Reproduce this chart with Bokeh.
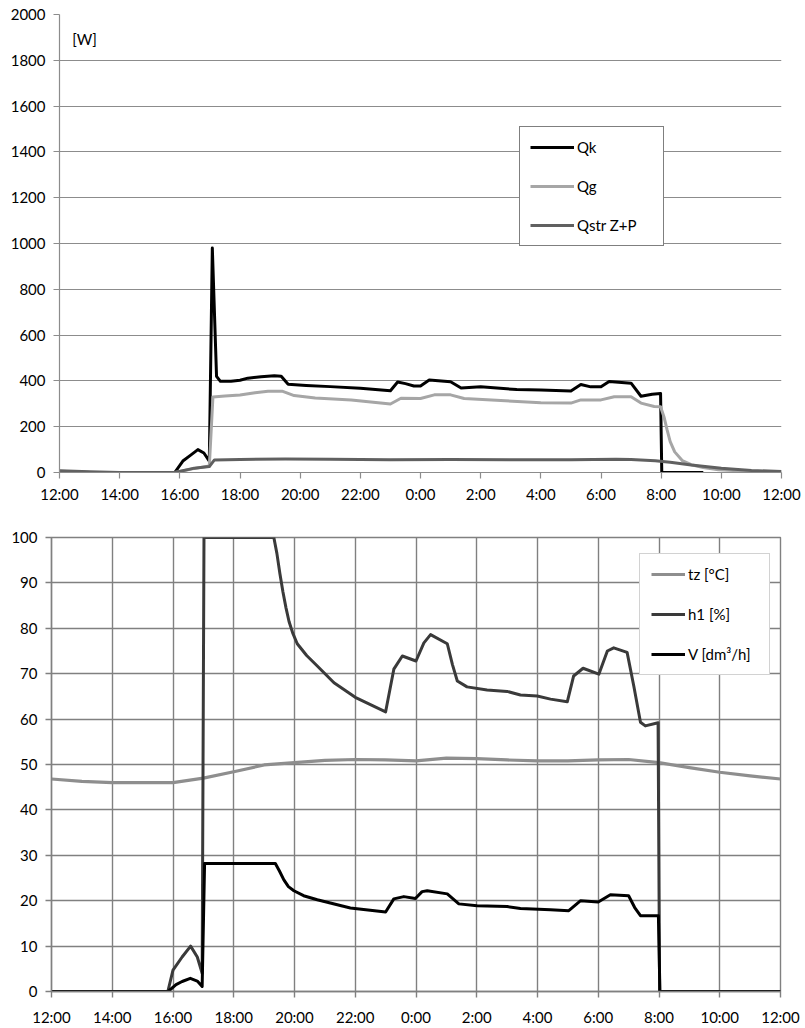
from bokeh.plotting import figure
from bokeh.models import FixedTicker, Legend, LegendItem, Label, Range1d, Spacer
from bokeh.layouts import column, row
from bokeh.embed import file_html
from bokeh.resources import INLINE

FONT = "Lato"

# x values: hours elapsed since 12:00 (noon)
x_ticks = [0, 2, 4, 6, 8, 10, 12, 14, 16, 18, 20, 22, 24]
x_tick_labels = ["12:00", "14:00", "16:00", "18:00", "20:00", "22:00", "0:00",
                 "2:00", "4:00", "6:00", "8:00", "10:00", "12:00"]

# ---------------- top chart: heat flows [W] ----------------
qk_t = [3.83, 4.1, 4.35, 4.6, 4.8, 4.98, 5.08, 5.22, 5.35, 5.7, 6.0, 6.26, 6.7, 7.14,
        7.37, 7.6, 8.2, 9.0, 10.0, 11.0, 11.24, 11.5, 11.78, 12.0, 12.29, 13.0, 13.35,
        14.0, 15.2, 16.0, 17.0, 17.33, 17.66, 18.0, 18.27, 19.0, 19.33, 19.7, 19.98,
        20.02, 21.4]
qk_v = [0, 50, 75, 100, 85, 50, 980, 420, 398, 398, 403, 412, 418, 422,
        420, 385, 380, 375, 368, 357, 395, 388, 378, 378, 404, 396, 369,
        374, 362, 360, 356, 384, 374, 374, 397, 390, 333, 342, 345,
        0, 0]

qg_t = [0, 1.0, 2.0, 3.83, 4.5, 4.98, 5.1, 5.5, 6.0, 6.5, 6.93, 7.4, 7.8, 8.5, 9.7,
        11.0, 11.35, 12.0, 12.46, 13.0, 13.45, 14.67, 16.0, 17.0, 17.33, 18.0, 18.44,
        19.0, 19.33, 19.77, 19.98, 20.1, 20.2, 20.3, 20.45, 20.7, 21.0, 21.4, 21.9,
        22.9, 24.0]
qg_v = [6, 1, 0, 0, 18, 28, 330, 334, 338, 348, 355, 355, 336, 325, 317,
        299, 324, 323, 339, 339, 323, 314, 305, 303, 317, 317, 331,
        331, 303, 288, 287, 240, 185, 135, 90, 52, 34, 22, 12,
        5, 2]

qs_t = [0, 1.0, 2.0, 3.83, 4.48, 4.98, 5.15, 6.0, 7.5, 9.0, 11.0, 13.0, 15.0, 17.0,
        18.5, 19.0, 19.8, 20.3, 21.0, 22.0, 23.0, 24.0]
qs_v = [8, 3, 0, 0, 19, 26, 55, 57, 59, 58, 56, 57, 56, 56,
        58, 57, 51, 45, 33, 19, 9, 4]

top_y_ticks = [0, 200, 400, 600, 800, 1000, 1200, 1400, 1600, 1800, 2000]

# ---------------- bottom chart ----------------
tz_t = [0, 1, 2, 3, 4, 5, 6, 7, 8, 9, 10, 11, 12, 13, 14, 15, 16, 17, 18, 19, 20,
        21, 22, 23, 24]
tz_v = [46.8, 46.3, 46.0, 46.0, 46.0, 47.0, 48.4, 49.9, 50.4, 50.9, 51.1, 51.0, 50.8,
        51.4, 51.3, 51.0, 50.8, 50.8, 51.0, 51.1, 50.4, 49.3, 48.3, 47.5, 46.8]

h1_t = [0, 3.83, 4.0, 4.3, 4.58, 4.8, 4.96, 5.02, 7.32, 7.42, 7.52, 7.62, 7.72, 7.82,
        7.94, 8.09, 8.4, 8.75, 9.3, 10.0, 11.0, 11.27, 11.55, 12.0, 12.26, 12.48,
        13.03, 13.2, 13.36, 13.68, 14.34, 15.0, 15.44, 15.99, 16.43, 16.98, 17.19,
        17.5, 18.02, 18.3, 18.51, 18.95, 19.17, 19.39, 19.55, 19.97, 20.02, 24.0]
h1_v = [0, 0, 4.7, 7.6, 10.0, 7.6, 4.0, 100, 100, 96.5, 92, 88, 84.5, 81.5,
        79, 76.6, 74, 71.7, 68.0, 64.8, 61.6, 71.0, 73.9, 72.8, 76.8, 78.6,
        76.6, 72.0, 68.4, 67.1, 66.4, 66.1, 65.3, 65.1, 64.4, 63.8, 69.5,
        71.2, 69.9, 75.0, 75.7, 74.7, 67.3, 59.3, 58.5, 59.2, 0, 0]

v_t = [0, 3.84, 4.1, 4.3, 4.57, 4.8, 4.96, 5.04, 7.37, 7.5, 7.65, 7.8, 7.98, 8.3,
       8.75, 9.84, 11.0, 11.27, 11.6, 11.98, 12.2, 12.37, 13.03, 13.41, 14.01, 15.0,
       15.44, 16.43, 17.03, 17.42, 18.0, 18.4, 19.0, 19.2, 19.39, 19.98, 20.03, 24.0]
v_v = [0, 0, 1.5, 2.2, 2.9, 2.3, 1.1, 28.2, 28.2, 26.6, 24.6, 23.1, 22.2, 21.1,
       20.2, 18.4, 17.5, 20.4, 20.9, 20.5, 22.0, 22.2, 21.5, 19.3, 18.9, 18.7,
       18.3, 18.0, 17.8, 20.0, 19.7, 21.3, 21.1, 18.5, 16.7, 16.7, 0, 0]

bottom_y_ticks = [0, 10, 20, 30, 40, 50, 60, 70, 80, 90, 100]


def style_axes(p, label_standoff_y, grid_color, grid_width):
    for ax in p.xaxis + p.yaxis:
        ax.axis_line_color = grid_color
        ax.axis_line_width = grid_width
        ax.major_tick_line_color = grid_color
        ax.major_tick_line_width = grid_width
        ax.major_tick_out = 6
        ax.major_tick_in = 0
        ax.minor_tick_line_color = None
        ax.major_label_text_font = FONT
        ax.major_label_text_font_size = "15px"
        ax.major_label_text_color = "#000000"
    p.xaxis.ticker = FixedTicker(ticks=x_ticks)
    p.xaxis.major_label_overrides = {t: s for t, s in zip(x_ticks, x_tick_labels)}
    p.xaxis.major_label_standoff = 6
    p.yaxis.major_label_standoff = label_standoff_y


# ---------- top figure (placed 7 px right of the bottom one) ----------
p1 = figure(width=798, height=505, output_backend="svg", toolbar_location=None,
            x_range=Range1d(0, 24), y_range=Range1d(0, 2000),
            min_border_left=51, min_border_right=24, min_border_top=14,
            min_border_bottom=32)
p1.outline_line_color = None
p1.background_fill_color = "white"
p1.border_fill_color = "white"
style_axes(p1, 8, "#8c8c8c", 1.2)
p1.yaxis.ticker = FixedTicker(ticks=top_y_ticks)
p1.xgrid.grid_line_color = None
p1.ygrid.grid_line_color = "#8c8c8c"
p1.ygrid.grid_line_width = 1.2

r_qk = p1.line(qk_t, qk_v, line_color="#000000", line_width=3, line_join="round")
r_qg = p1.line(qg_t, qg_v, line_color="#a6a6a6", line_width=3, line_join="round")
r_qs = p1.line(qs_t, qs_v, line_color="#606060", line_width=3, line_join="round")

p1.add_layout(Label(x=0.42, y=1893, text="[W]", text_font=FONT,
                    text_font_size="15px", text_baseline="middle",
                    text_color="#000000"))

leg1 = Legend(items=[LegendItem(label="Qk", renderers=[r_qk]),
                     LegendItem(label="Qg", renderers=[r_qg]),
                     LegendItem(label="Qstr Z+P", renderers=[r_qs])],
              location=(460, 226))
leg1.margin = 0
leg1.padding = 10
leg1.spacing = 19
leg1.glyph_width = 44
leg1.glyph_height = 20
leg1.label_height = 20
leg1.label_width = 76
leg1.label_standoff = 3
leg1.label_text_font = FONT
leg1.label_text_font_size = "15px"
leg1.label_text_color = "#000000"
leg1.border_line_color = "#000000"
leg1.border_line_width = 1.2
leg1.background_fill_color = "white"
leg1.background_fill_alpha = 1.0
p1.add_layout(leg1)

# ---------- bottom figure ----------
p2 = figure(width=805, height=523, output_backend="svg", toolbar_location=None,
            x_range=Range1d(0, 24), y_range=Range1d(0, 100),
            min_border_left=51, min_border_right=25, min_border_top=32,
            min_border_bottom=33)
p2.outline_line_color = "#808080"
p2.outline_line_width = 1.4
p2.background_fill_color = "white"
p2.border_fill_color = "white"
style_axes(p2, 8, "#808080", 1.4)
p2.yaxis.ticker = FixedTicker(ticks=bottom_y_ticks)
p2.xaxis.major_label_standoff = 10
p2.xgrid.grid_line_color = "#808080"
p2.xgrid.grid_line_width = 1.4
p2.ygrid.grid_line_color = "#808080"
p2.ygrid.grid_line_width = 1.4

r_tz = p2.line(tz_t, tz_v, line_color="#8e8e8e", line_width=3.2, line_join="round")
r_h1 = p2.line(h1_t, h1_v, line_color="#3a3a3a", line_width=3, line_join="round")
r_v = p2.line(v_t, v_v, line_color="#000000", line_width=3, line_join="round")

leg2 = Legend(items=[LegendItem(label="tz [°C]", renderers=[r_tz]),
                     LegendItem(label="h1 [%]", renderers=[r_h1]),
                     LegendItem(label="V [dm³/h]", renderers=[r_v])],
              location=(588, 316))
leg2.margin = 0
leg2.padding = 11
leg2.spacing = 22
leg2.glyph_width = 34
leg2.glyph_height = 18
leg2.label_height = 18
leg2.label_width = 70
leg2.label_standoff = 3
leg2.label_text_font = FONT
leg2.label_text_font_size = "15px"
leg2.label_text_color = "#000000"
leg2.border_line_color = "#a6a6a6"
leg2.border_line_width = 1
leg2.background_fill_color = "white"
leg2.background_fill_alpha = 1.0
p2.add_layout(leg2)

layout = column(row(Spacer(width=7, height=505), p1, spacing=0), p2, spacing=0)
open("out.html", "w").write(file_html(layout, INLINE))
